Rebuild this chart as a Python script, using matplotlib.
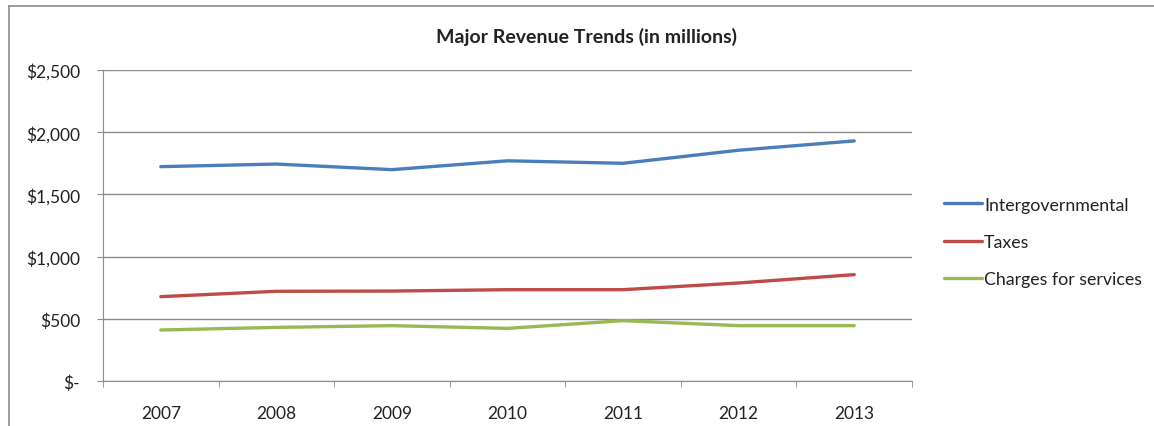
import matplotlib.pyplot as plt
from matplotlib.lines import Line2D
from matplotlib.ticker import FixedLocator, FuncFormatter

years = [2007, 2008, 2009, 2010, 2011, 2012, 2013]
intergovernmental = [1723, 1744, 1699, 1770, 1750, 1855, 1930]
taxes = [678, 721, 723, 734, 734, 788, 855]
charges = [410, 431, 445, 423, 485, 445, 445]

series_names = ['Intergovernmental', 'Taxes', 'Charges for services']
series_colors = ['#4A7EBB', '#BE4B48', '#98B954']

W, H = 1154, 427
plt.rcParams['font.family'] = ['Lato', 'DejaVu Sans']

fig = plt.figure(figsize=(W / 100, H / 100), dpi=100)

# chart frame (its right and bottom edges run off the image)
fig.add_artist(Line2D([9 / W, 9 / W], [1 - 7 / H, 0], color='#8c8c8c', lw=1.2))
fig.add_artist(Line2D([9 / W, 1], [1 - 7 / H, 1 - 7 / H], color='#8c8c8c', lw=1.2))

left, right, top, bottom = 103, 912, 71, 382
ax = fig.add_axes([left / W, 1 - bottom / H, (right - left) / W, (bottom - top) / H])

for vals, name, col in zip([intergovernmental, taxes, charges], series_names, series_colors):
    ax.plot(years, vals, color=col, lw=2.4, label=name, solid_capstyle='round')

ax.set_xlim(2006.5, 2013.5)
ax.set_ylim(0, 2500)
ax.set_yticks(range(0, 2501, 500))
ax.yaxis.set_major_formatter(FuncFormatter(lambda v, p: '$-' if v == 0 else f'${v:,.0f}'))
ax.grid(axis='y', color='#8c8c8c', lw=1)
ax.set_axisbelow(True)

ax.set_xticks(years)
ax.xaxis.set_minor_locator(FixedLocator([y + 0.5 for y in range(2006, 2014)]))
ax.tick_params(axis='x', which='major', length=0, pad=17, labelsize=12.5, colors='#222222')
ax.tick_params(axis='x', which='minor', length=4.5, color='#8c8c8c')
ax.tick_params(axis='y', length=4.5, color='#8c8c8c', labelsize=12.5, labelcolor='#222222', pad=12)

for s in ['top', 'right']:
    ax.spines[s].set_visible(False)
for s in ['left', 'bottom']:
    ax.spines[s].set_color('#8c8c8c')

fig.text(586 / W, 1 - 37 / H, 'Major Revenue Trends (in millions)', ha='center', va='center',
         fontsize=14, fontweight='bold', color='#222222')

leg = ax.legend(loc='center left', bbox_to_anchor=(1.02, 0.447), frameon=False,
                fontsize=12.8, handlelength=2.1, handletextpad=0.15, labelspacing=1.2)
for t in leg.get_texts():
    t.set_color('#222222')

fig.savefig('out.png', dpi=100)
